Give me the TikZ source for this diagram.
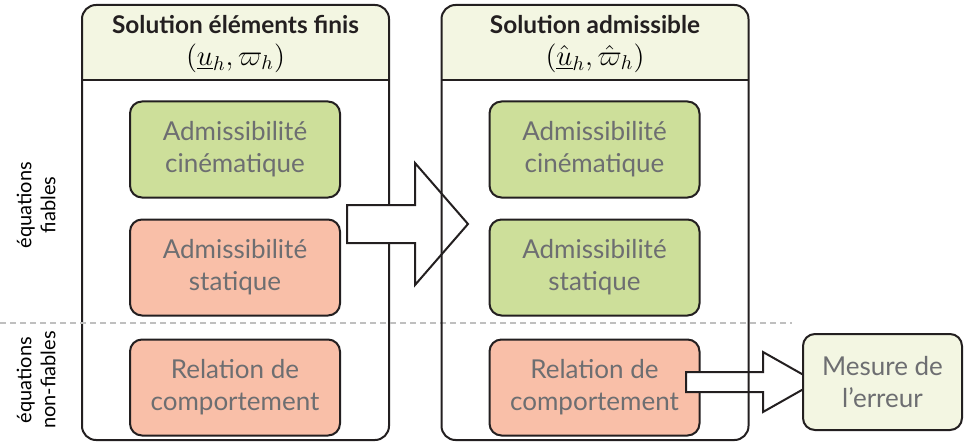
\documentclass[tikz,border=0pt]{standalone}
\usepackage{fontspec}
\setmainfont{Lato}
\usetikzlibrary{positioning}
\definecolor{vert}{RGB}{205,223,154}
\definecolor{saumon}{RGB}{249,191,168}
\definecolor{creme}{RGB}{243,246,226}
\definecolor{gristexte}{RGB}{109,110,113}
\definecolor{encre}{RGB}{35,31,32}
\begin{document}
\begin{tikzpicture}[x=0.5pt, y=-0.5pt, cadre style/.style={draw=encre, line width=1pt, rounded corners=7pt}, zone style/.style={inner sep=0pt, outer sep=0pt, minimum width=153.5pt, minimum height=217.5pt}, boite style/.style={draw=encre, line width=1pt, rounded corners=6pt, minimum width=105pt, minimum height=48pt, align=center, text=gristexte, font=\fontsize{13}{16}\selectfont}, titre style/.style={font=\bfseries\fontsize{12.2}{14}\selectfont, text=encre}, formule style/.style={font=\fontsize{14.5}{16}\selectfont, inner sep=1pt}, fleche style/.style={draw=encre, fill=white, line width=1pt, line join=miter}, cote style/.style={rotate=90, align=center, font=\fontsize{10}{12}\selectfont}]
	\useasboundingbox (0,0) rectangle (964,444);
	% cadres
	\node[zone style] (F1) at (235.5,222.5) {};
	\node[zone style] (F2) at (595,222.5) {};
	\foreach \f in {F1,F2} {
		\begin{scope}
			\clip (\f.north west) rectangle ([yshift=-37.5pt]\f.north east);
			\fill[creme, rounded corners=7pt] (\f.north west) rectangle (\f.south east);
		\end{scope}
		\draw[encre, line width=1pt] ([yshift=-37.5pt]\f.north west) -- ([yshift=-37.5pt]\f.north east);
	}
	\draw[cadre style] (F1.north west) rectangle (F1.south east);
	\node[titre style] (T1) at (235.5,25) {Solution éléments finis};
	\node[formule style] (M1) at (235.5,58) {$(\underline{u}_h,\varpi_h)$};
	\node[titre style] (T2) at (595,25) {Solution admissible};
	\node[formule style] (M2) at (595,58) {$(\hat{\underline{u}}_h,\hat{\varpi}_h)$};
	% separation
	\draw[black!25, line width=1pt, dash pattern=on 3pt off 2pt] (0,323) -- (792,323);
	\node[cote style] (L1) at (36,205) {équations\\fiables};
	\node[cote style] (L2) at (36,380) {équations\\non-fiables};
	% boites
	\node[boite style, fill=vert] (A1) at (235,149.5) {Admissibilité\\cinématique};
	\node[boite style, fill=saumon, below=10pt of A1] (B1) {Admissibilité\\statique};
	\node[boite style, fill=saumon, below=11pt of B1] (C1) {Relation de\\comportement};
	\node[boite style, fill=vert] (A2) at (594.5,149.5) {Admissibilité\\cinématique};
	\node[boite style, fill=vert, below=10pt of A2] (B2) {Admissibilité\\statique};
	\node[boite style, fill=saumon, below=11pt of B2] (C2) {Relation de\\comportement};
	% fleches
	\draw[fleche style] (347,205) -- (415,205) -- (415,163) -- (468,224) -- (415,285) -- (415,243) -- (347,243) -- cycle;
	\draw[fleche style] (686,372) -- (763,372) -- (763,352) -- (816,382) -- (763,412) -- (763,392) -- (686,392) -- cycle;
	\draw[cadre style] (F2.north west) rectangle (F2.south east);
	\node[boite style, fill=creme, minimum width=79.5pt] (E) at (882.5,382) {Mesure de\\l’erreur};
\end{tikzpicture}
\end{document}
